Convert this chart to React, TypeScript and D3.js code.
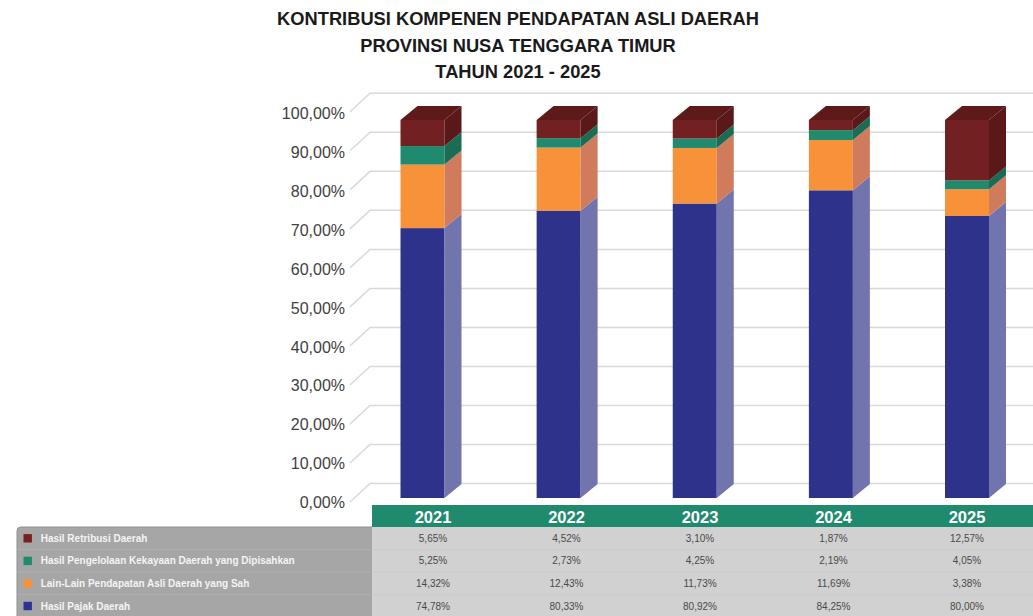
import React from 'react';
import * as d3 from 'd3';

const W = 1033;
const H = 616;

const years = ['2021', '2022', '2023', '2024', '2025'];

// Segment heights as drawn in the columns (% of column)
const barPajak = [71.4, 76.0, 77.9, 81.4, 74.6];
const barLainLain = [16.8, 16.7, 14.7, 13.3, 7.1];
const barPengelolaan = [4.9, 2.5, 2.5, 2.6, 2.3];
const barRetribusi = [6.9, 4.8, 4.9, 2.7, 16.0];

// Data table (as printed)
const tblRetribusi = ['5,65%', '4,52%', '3,10%', '1,87%', '12,57%'];
const tblPengelolaan = ['5,25%', '2,73%', '4,25%', '2,19%', '4,05%'];
const tblLainLain = ['14,32%', '12,43%', '11,73%', '11,69%', '3,38%'];
const tblPajak = ['74,78%', '80,33%', '80,92%', '84,25%', '80,00%'];

const yTicks = [0, 10, 20, 30, 40, 50, 60, 70, 80, 90, 100];

const titleLines = [
  'KONTRIBUSI KOMPENEN PENDAPATAN ASLI DAERAH',
  'PROVINSI NUSA TENGGARA TIMUR',
  'TAHUN 2021 - 2025',
];

const seriesKeys = ['pajak', 'lain', 'pengelolaan', 'retribusi'];
const seriesNames: Record<string, string> = {
  pajak: 'Hasil Pajak Daerah',
  lain: 'Lain-Lain Pendapatan Asli Daerah yang Sah',
  pengelolaan: 'Hasil Pengelolaan Kekayaan Daerah yang Dipisahkan',
  retribusi: 'Hasil Retribusi Daerah',
};
const frontColor: Record<string, string> = {
  pajak: '#2f328a',
  lain: '#f7923a',
  pengelolaan: '#1f8a6d',
  retribusi: '#722021',
};
const sideColor: Record<string, string> = {
  pajak: '#7274ae',
  lain: '#d07b5c',
  pengelolaan: '#1b6c55',
  retribusi: '#5b1818',
};
const legendColor: Record<string, string> = {
  pajak: '#2e3192',
  lain: '#f7923a',
  pengelolaan: '#1f8a6d',
  retribusi: '#7a1f1f',
};

const tableRows = [
  { key: 'retribusi', values: tblRetribusi },
  { key: 'pengelolaan', values: tblPengelolaan },
  { key: 'lain', values: tblLainLain },
  { key: 'pajak', values: tblPajak },
];

const fmtTick = (d: number) => d3.format('.2f')(d).replace('.', ',') + '%';

export default function App() {
  const rows = years.map((y, i) => ({
    year: y,
    pajak: barPajak[i],
    lain: barLainLain[i],
    pengelolaan: barPengelolaan[i],
    retribusi: barRetribusi[i],
  }));
  const stack = d3.stack<any>().keys(seriesKeys)(rows);

  const yFront = d3.scaleLinear().domain([0, 100]).range([498, 120]);
  const yBack = d3.scaleLinear().domain([0, 100]).range([483.5, 93.3]);
  const yLabel = d3.scaleLinear().domain([0, 100]).range([508, 119.3]);
  const xBar = d3.scalePoint<string>().domain(years).range([422.5, 967]);
  const xCol = d3.scalePoint<string>().domain(years).range([433, 967]);

  const barW = 44;
  const dx = 17;
  const dy = 14;

  const rowY = d3.scalePoint<string>().domain(tableRows.map((r) => r.key)).range([538.3, 606]);

  const font = "'Liberation Sans', Arial, sans-serif";

  return (
    <svg width={W} height={H} style={{ position: 'absolute', left: 0, top: 0, background: '#fff' }} fontFamily={font}>
      <rect x={0} y={0} width={W} height={H} fill="#ffffff" />
      {titleLines.map((t, i) => (
        <text key={t} x={518} y={25 + i * 26.5} textAnchor="middle" fontWeight="bold" fontSize={18.3} fill="#1a1a1a">
          {t}
        </text>
      ))}

      {/* gridlines */}
      {yTicks.map((t) => (
        <g key={t}>
          <path
            d={`M350,${yBack(t) + 18.5}L370,${yBack(t)}L${W},${yBack(t)}`}
            fill="none"
            stroke="#d9d9d9"
            strokeWidth={1.5}
          />
          <text x={345} y={yLabel(t)} textAnchor="end" fontSize={16} fill="#404040">
            {fmtTick(t)}
          </text>
        </g>
      ))}

      {/* bars */}
      {years.map((yr, i) => {
        const x0 = (xBar(yr) as number) - barW / 2;
        const x1 = x0 + barW;
        const topVal = stack[stack.length - 1][i][1];
        return (
          <g key={yr}>
            {stack.map((s) => {
              const [a, b] = s[i];
              const yt = yFront(b);
              const yb = yFront(a);
              return (
                <g key={s.key}>
                  <rect x={x0} y={yt} width={barW} height={yb - yt} fill={frontColor[s.key]} />
                  <path
                    d={`M${x1},${yt}L${x1 + dx},${yt - dy}L${x1 + dx},${yb - dy}L${x1},${yb}Z`}
                    fill={sideColor[s.key]}
                  />
                </g>
              );
            })}
            <path
              d={`M${x0},${yFront(topVal)}L${x0 + dx},${yFront(topVal) - dy}L${x1 + dx},${yFront(topVal) - dy}L${x1},${yFront(topVal)}Z`}
              fill="#5e1a19"
            />
          </g>
        );
      })}

      {/* table */}
      <rect x={372} y={527} width={W - 372} height={H - 527} fill="#d1d1d1" />
      <rect x={17} y={527} width={360} height={H - 527 + 10} rx={4} fill="#a6a6a6" stroke="#8f8f8f" strokeWidth={1} />
      <rect x={372} y={527} width={W - 372} height={H - 527} fill="#d1d1d1" />
      {[549.6, 572.2, 594.8].map((y) => (
        <line key={y} x1={17} x2={W} y1={y} y2={y} stroke="#c2c2c2" strokeWidth={0.6} opacity={0.6} />
      ))}
      <rect x={372} y={505} width={W - 372} height={22} fill="#1f8a6d" />
      {years.map((yr) => (
        <text key={yr} x={xCol(yr)} y={523} textAnchor="middle" fontWeight="bold" fontSize={16.5} fill="#ffffff">
          {yr}
        </text>
      ))}
      {tableRows.map((r) => {
        const cy = rowY(r.key) as number;
        return (
          <g key={r.key}>
            <rect x={23.5} y={cy - 4.2} width={8.4} height={8.4} fill={legendColor[r.key]} />
            <text x={40.7} y={cy + 3.6} fontSize={10} fontWeight="bold" fill="#f4f4f4">
              {seriesNames[r.key]}
            </text>
            {years.map((yr, i) => (
              <text key={yr} x={xCol(yr)} y={cy + 3.6} textAnchor="middle" fontSize={10} fill="#4a4a4a">
                {r.values[i]}
              </text>
            ))}
          </g>
        );
      })}
    </svg>
  );
}
